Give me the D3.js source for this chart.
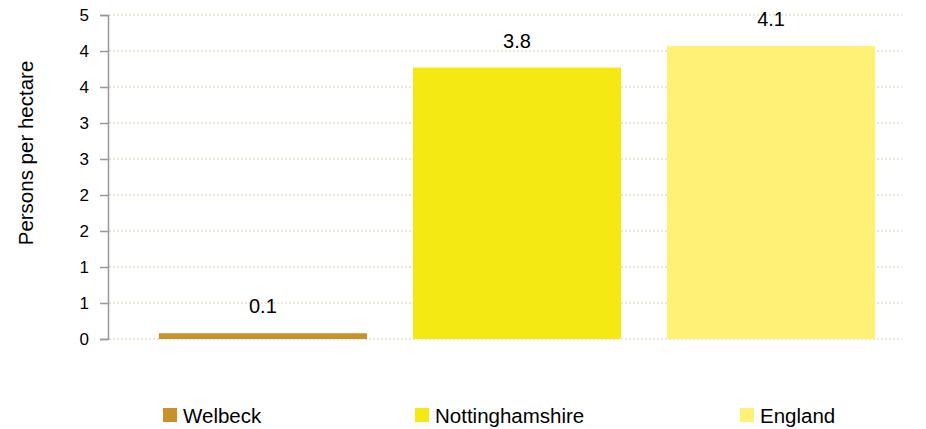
<!DOCTYPE html>
<meta charset="utf-8">
<style>
body { margin: 0; background: #fff; }
text { font-family: "Liberation Sans", Arial, sans-serif; fill: #000; }
.grid line { stroke: #d8d2b4; stroke-dasharray: 2,2; stroke-width: 1.2; }
.axis path, .axis line { stroke: #999; stroke-width: 1.5; }
</style>
<svg width="926" height="429"></svg>
<script src="https://d3js.org/d3.v7.min.js"></script>
<script>

var categories = ["Welbeck", "Nottinghamshire", "England"],
    values = [0.08, 3.77, 4.07],
    colors = ["#c8912b", "#f5e914", "#fff176"],
    tickValues = [0, 0.5, 1, 1.5, 2, 2.5, 3, 3.5, 4, 4.5],
    tickLabels = ["0", "1", "1", "2", "2", "3", "3", "4", "4", "5"];

var svg = d3.select("svg");

var x = d3.scaleBand()
    .domain(categories)
    .range([136, 898])
    .paddingInner(0.181)
    .paddingOuter(0.09);

var y = d3.scaleLinear().domain([0, 4.5]).range([339, 15]);

// dotted gridlines
svg.append("g")
    .attr("class", "grid")
  .selectAll("line")
  .data(tickValues)
  .enter().append("line")
    .attr("x1", 109)
    .attr("x2", 902)
    .attr("y1", function(d) { return y(d); })
    .attr("y2", function(d) { return y(d); });

svg.append("g")
    .attr("class", "axis")
    .attr("transform", "translate(108,0)")
    .call(d3.axisLeft(y)
        .tickValues(tickValues)
        .tickSize(8)
        .tickSizeOuter(8)
        .tickPadding(11)
        .tickFormat(function(d, i) { return tickLabels[i]; }))
    .call(function(g) {
      g.selectAll("text")
          .style("font-size", "17px")
          .style("font-family", "Liberation Sans, Arial, sans-serif")
          .attr("fill", "#000");
    });

svg.append("text")
    .attr("transform", "translate(33,153) rotate(-90)")
    .attr("text-anchor", "middle")
    .style("font-size", "20.5px")
    .text("Persons per hectare");

var bars = svg.selectAll(".bar")
    .data(categories)
  .enter().append("g");

bars.append("rect")
    .attr("x", function(d) { return x(d); })
    .attr("width", x.bandwidth())
    .attr("y", function(d, i) { return y(values[i]); })
    .attr("height", function(d, i) { return y(0) - y(values[i]); })
    .attr("fill", function(d, i) { return colors[i]; });

bars.append("text")
    .attr("x", function(d) { return x(d) + x.bandwidth() / 2; })
    .attr("y", function(d, i) { return y(values[i]) - 20; })
    .attr("text-anchor", "middle")
    .style("font-size", "20px")
    .text(function(d, i) { return d3.format(".1f")(values[i]); });

// legend
var legendX = [163, 415, 740];
var legend = svg.selectAll(".legend")
    .data(categories)
  .enter().append("g")
    .attr("transform", function(d, i) { return "translate(" + legendX[i] + ",408)"; });

legend.append("rect")
    .attr("width", 14)
    .attr("height", 14)
    .attr("fill", function(d, i) { return colors[i]; });

legend.append("text")
    .attr("x", 20)
    .attr("y", 15)
    .style("font-size", "20.5px")
    .text(function(d) { return d; });

</script>
